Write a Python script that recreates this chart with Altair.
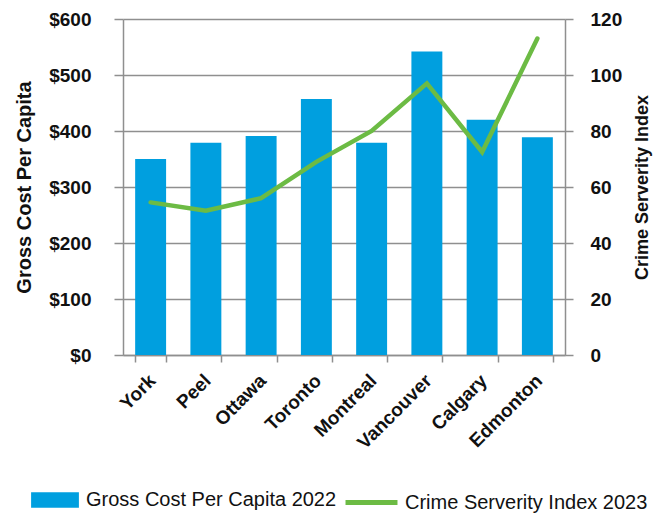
import altair as alt
import pandas as pd

cities = ["York", "Peel", "Ottawa", "Toronto", "Montreal", "Vancouver", "Calgary", "Edmonton"]
cost_per_capita = [350, 379, 391, 457, 379, 542, 420, 389]
crime_severity = [54.5, 51.5, 56, 69, 80, 97, 72.5, 113]

bar_name = "Gross Cost Per Capita 2022"
line_name = "Crime Serverity Index 2023"

df = pd.DataFrame({
    "city": cities,
    "cost": cost_per_capita,
    "csi": crime_severity,
    "s_bar": bar_name,
    "s_line": line_name,
})

FONT = "Liberation Sans, Arial, sans-serif"
BLUE = "#009fdf"
GREEN = "#6cbb44"
GRID = "#8f8f8f"
TXT = "#111111"

legend_common = dict(
    orient="none",
    direction="horizontal",
    title=None,
    labelFont=FONT,
    labelFontSize=20,
    labelColor=TXT,
    labelLimit=400,
    labelOffset=5,
    symbolSize=2700,
    symbolOpacity=1,
)

bar_legend = alt.Legend(
    legendX=-94, legendY=455,
    symbolType="M-0.92,-0.3H0.92V0.3H-0.92Z",
    symbolFillColor=BLUE,
    symbolStrokeWidth=0,
    **legend_common,
)
line_legend = alt.Legend(
    legendX=220, legendY=455,
    symbolType="stroke",
    symbolStrokeColor=GREEN,
    symbolStrokeWidth=5,
    **legend_common,
)

x = alt.X(
    "city:N",
    sort=cities,
    title=None,
    scale=alt.Scale(paddingInner=0.44, paddingOuter=0.22),
    axis=alt.Axis(
        labelAngle=315,
        labelFont=FONT,
        labelFontSize=19,
        labelFontWeight="bold",
        labelColor=TXT,
        labelPadding=9,
        labelOffset=-5,
        tickBand="extent",
        tickSize=7,
        tickColor=GRID,
        tickWidth=1.5,
        domainColor=GRID,
        domainWidth=1.5,
        grid=False,
    ),
)

base = alt.Chart(df)

bars = base.mark_bar(strokeWidth=0).encode(
    x=x,
    y=alt.Y(
        "cost:Q",
        scale=alt.Scale(domain=[0, 600], nice=False),
        axis=alt.Axis(
            title="Gross Cost Per Capita",
            values=[0, 100, 200, 300, 400, 500, 600],
            format="$,.0f",
            labelFont=FONT,
            labelFontSize=19,
            labelFontWeight="bold",
            labelColor=TXT,
            labelPadding=23,
            tickSize=9,
            tickColor=GRID,
            tickWidth=1.5,
            domainColor=GRID,
            domainWidth=1.5,
            grid=True,
            gridColor=GRID,
            gridWidth=1.5,
            titleFont=FONT,
            titleFontSize=20,
            titleFontWeight="bold",
            titleColor=TXT,
            titlePadding=14,
        ),
    ),
    fill=alt.Fill("s_bar:N", scale=alt.Scale(domain=[bar_name], range=[BLUE]), legend=bar_legend),
)

line = base.mark_line(strokeWidth=4.5, strokeCap="round").encode(
    x=x,
    y=alt.Y(
        "csi:Q",
        scale=alt.Scale(domain=[0, 120], nice=False),
        axis=alt.Axis(
            orient="right",
            title="Crime Serverity Index",
            values=[0, 20, 40, 60, 80, 100, 120],
            labelFont=FONT,
            labelFontSize=19,
            labelFontWeight="bold",
            labelColor=TXT,
            labelPadding=17,
            tickSize=8,
            tickColor=GRID,
            tickWidth=1.5,
            domainColor=GRID,
            domainWidth=1.5,
            grid=False,
            titleFont=FONT,
            titleFontSize=18,
            titleFontWeight="bold",
            titleColor=TXT,
            titlePadding=30,
            titleAngle=270,
        ),
    ),
    stroke=alt.Stroke("s_line:N", scale=alt.Scale(domain=[line_name], range=[GREEN]), legend=line_legend),
)

chart = (
    alt.layer(bars, line)
    .resolve_scale(y="independent")
    .properties(width=442, height=336, padding={"left": 6, "top": 2, "right": 3, "bottom": 3})
    .configure_view(stroke=None)
    .configure_legend(padding=0)
)

chart.save("out.html", embed_options={"renderer": "svg", "actions": False})
